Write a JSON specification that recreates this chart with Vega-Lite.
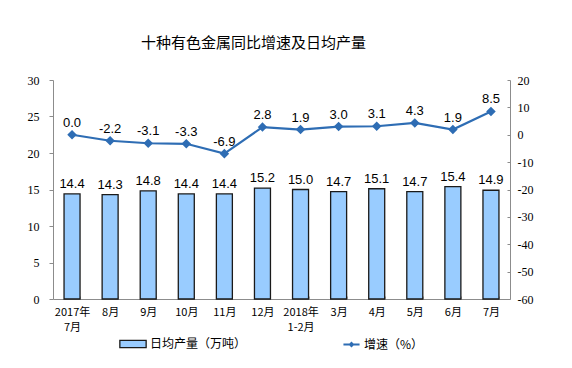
{
  "$schema": "https://vega.github.io/schema/vega-lite/v6.json",
  "width": 457,
  "height": 219,
  "autosize": {"type": "none"},
  "padding": {"left": 53, "top": 80, "right": 62, "bottom": 69},
  "background": "white",
  "title": {
    "text": "十种有色金属同比增速及日均产量",
    "font": "Noto Sans CJK SC",
    "fontSize": 15,
    "fontWeight": "normal",
    "color": "#000000",
    "anchor": "middle",
    "dx": -28,
    "offset": 23
  },
  "data": {
    "values": [
      {"month": "2017年 7月", "output": 14.4, "growth": 0.0},
      {"month": "8月", "output": 14.3, "growth": -2.2},
      {"month": "9月", "output": 14.8, "growth": -3.1},
      {"month": "10月", "output": 14.4, "growth": -3.3},
      {"month": "11月", "output": 14.4, "growth": -6.9},
      {"month": "12月", "output": 15.2, "growth": 2.8},
      {"month": "2018年 1-2月", "output": 15.0, "growth": 1.9},
      {"month": "3月", "output": 14.7, "growth": 3.0},
      {"month": "4月", "output": 15.1, "growth": 3.1},
      {"month": "5月", "output": 14.7, "growth": 4.3},
      {"month": "6月", "output": 15.4, "growth": 1.9},
      {"month": "7月", "output": 14.9, "growth": 8.5}
    ]
  },
  "encoding": {
    "x": {
      "field": "month",
      "type": "nominal",
      "sort": null,
      "scale": {"paddingInner": 0.58, "paddingOuter": 0.29},
      "axis": {
        "title": null,
        "labelAngle": 0,
        "labelExpr": "split(datum.label, ' ')",
        "labelLineHeight": 15,
        "labelFont": "Noto Sans CJK SC",
        "labelFontSize": 11,
        "labelColor": "#000000",
        "labelPadding": 10,
        "domainColor": "#8c8c8c",
        "tickColor": "#b0b0b0",
        "tickBand": "extent",
        "tickSize": -3,
        "grid": false
      }
    }
  },
  "layer": [
    {
      "mark": {"type": "bar", "stroke": "#1a1a1a", "strokeWidth": 1.3},
      "encoding": {
        "y": {
          "field": "output",
          "type": "quantitative",
          "scale": {"domain": [0, 30], "nice": false},
          "axis": {
            "title": null,
            "values": [0, 5, 10, 15, 20, 25, 30],
            "grid": false,
            "labelFont": "Liberation Serif",
            "labelFontSize": 12,
            "labelColor": "#000000",
            "labelPadding": 10,
            "domainColor": "#8c8c8c",
            "tickColor": "#8c8c8c",
            "tickSize": 4
          }
        },
        "fill": {
          "datum": "日均产量（万吨）",
          "scale": {"range": ["#99CCFF"]},
          "legend": {
            "title": null,
            "orient": "none",
            "legendX": 71,
            "legendY": 255,
            "symbolType": "M-1.6,-0.45H1.6V0.45H-1.6Z",
            "symbolSize": 270,
            "symbolStrokeColor": "#1a1a1a",
            "symbolStrokeWidth": 1.3,
            "labelFont": "Noto Sans CJK SC",
            "labelFontSize": 12,
            "labelColor": "#000000",
            "labelOffset": 8
          }
        }
      }
    },
    {
      "mark": {"type": "text", "dy": -10, "font": "Liberation Sans", "fontSize": 13, "color": "#000000"},
      "encoding": {
        "y": {"field": "output", "type": "quantitative", "scale": {"domain": [0, 30], "nice": false}, "axis": null},
        "text": {"field": "output", "type": "quantitative", "format": ".1f"}
      }
    },
    {
      "mark": {"type": "line", "strokeWidth": 2.2, "point": {"shape": "diamond", "size": 45, "filled": true, "color": "#2E6DB4"}},
      "encoding": {
        "y": {
          "field": "growth",
          "type": "quantitative",
          "scale": {"domain": [-60, 20], "nice": false},
          "axis": {
            "title": null,
            "orient": "right",
            "values": [-60, -50, -40, -30, -20, -10, 0, 10, 20],
            "grid": false,
            "labelFont": "Liberation Serif",
            "labelFontSize": 12,
            "labelColor": "#000000",
            "labelPadding": 10,
            "domainColor": "#8c8c8c",
            "tickColor": "#8c8c8c",
            "tickSize": -3
          }
        },
        "stroke": {
          "datum": "增速（%）",
          "scale": {"range": ["#2E6DB4"]},
          "legend": {
            "title": null,
            "orient": "none",
            "legendX": 289,
            "legendY": 255,
            "symbolType": "M-1,0H1M0,-0.2L0.2,0L0,0.2L-0.2,0Z",
            "symbolSize": 260,
            "symbolFillColor": "#2E6DB4",
            "symbolStrokeWidth": 2,
            "labelFont": "Noto Sans CJK SC",
            "labelFontSize": 12,
            "labelColor": "#000000",
            "labelOffset": 3
          }
        }
      }
    },
    {
      "mark": {"type": "text", "dy": -12, "font": "Liberation Sans", "fontSize": 13, "color": "#000000"},
      "encoding": {
        "y": {"field": "growth", "type": "quantitative", "scale": {"domain": [-60, 20], "nice": false}, "axis": null},
        "text": {"field": "growth", "type": "quantitative", "format": ".1f"}
      }
    }
  ],
  "resolve": {"scale": {"y": "independent", "fill": "independent", "stroke": "independent"}},
  "config": {
    "view": {"stroke": null},
    "locale": {"number": {"decimal": ".", "thousands": ",", "grouping": [3], "currency": ["", ""], "minus": "-"}}
  }
}
